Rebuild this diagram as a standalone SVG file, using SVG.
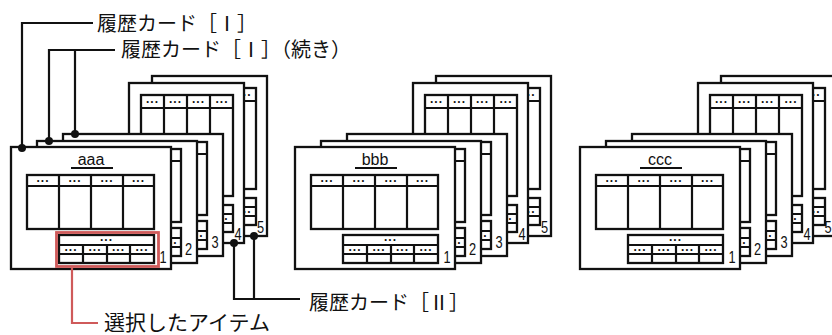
<svg xmlns="http://www.w3.org/2000/svg" xmlns:xlink="http://www.w3.org/1999/xlink" width="832" height="335" viewBox="0 0 832 335">
<style>
.card{fill:#fff;stroke:#111;stroke-width:2.3}
.tb{fill:#fff;stroke:#111;stroke-width:2.3}
.ln{fill:none;stroke:#111;stroke-width:2.2}
.dt{font-family:"Liberation Sans",Arial,sans-serif;font-size:12px;font-weight:bold;fill:#111;text-anchor:middle;letter-spacing:1px}
.num{font-family:"Liberation Sans",Arial,sans-serif;font-size:16px;fill:#111;text-anchor:middle}
.ttl{font-family:"Liberation Sans",Arial,sans-serif;font-size:16px;fill:#111;text-anchor:middle}
.jp{font-family:"Noto Sans CJK JP","Noto Sans",sans-serif;font-size:20px;fill:#111}
.con{fill:none;stroke:#111;stroke-width:2.2}
.jd{fill:#111}
.sel{fill:none;stroke:#cf5a5a;stroke-width:2.8}
.selln{fill:none;stroke:#cf5a5a;stroke-width:2.2}
</style>
<defs>
<g id="tplA">
<rect class="card" x="0" y="0" width="160" height="122"/>
<rect class="tb" x="16" y="28" width="127" height="54"/>
<path class="ln" d="M16 39H143M48 28V82M80 28V82M112 28V82"/>
<text class="dt" x="32" y="34.5">...</text><text class="dt" x="64" y="34.5">...</text><text class="dt" x="96" y="34.5">...</text><text class="dt" x="127.5" y="34.5">...</text>
<rect class="tb" x="48" y="88" width="95" height="28"/>
<path class="ln" d="M48 98H143M48 107H143M72 98V116M96 98V116M119 98V116"/>
<text class="dt" x="95.5" y="94">...</text>
<text class="dt" x="60" y="103.5">...</text><text class="dt" x="84" y="103.5">...</text><text class="dt" x="107.5" y="103.5">...</text><text class="dt" x="131" y="103.5">...</text>
</g>
<g id="tplBack">
<rect class="card" x="0" y="0" width="160" height="122"/>
<rect class="tb" x="16" y="8" width="128" height="73"/>
<path class="ln" d="M16 20H144M48 8V81M80 8V81M112 8V81"/>
<text class="dt" x="32" y="15">...</text><text class="dt" x="64" y="15">...</text><text class="dt" x="96" y="15">...</text><text class="dt" x="128" y="15">...</text>
<rect class="tb" x="48" y="87" width="96" height="28"/>
<path class="ln" d="M48 97H144M48 106H144M72 97V115M96 97V115M120 97V115"/>
<text class="dt" x="96" y="93">...</text>
<text class="dt" x="60" y="102.5">...</text><text class="dt" x="84" y="102.5">...</text><text class="dt" x="108" y="102.5">...</text><text class="dt" x="134" y="102.5">...</text>
</g>
<g id="tplB">
<rect class="card" x="0" y="0" width="115" height="160"/>
<rect class="tb" x="12" y="12" width="92" height="101"/>
<path class="ln" d="M12 25H104M35 12V113M58 12V113M81 12V113"/>
<text class="dt" x="23.5" y="19.5">...</text><text class="dt" x="46.5" y="19.5">...</text><text class="dt" x="69.5" y="19.5">...</text><text class="dt" x="93" y="19.5">...</text>
<rect class="tb" x="12" y="122" width="92" height="27"/>
<path class="ln" d="M12 131H104M12 140H104M35 131V149M58 131V149M81 131V149"/>
<text class="dt" x="58" y="127.5">...</text>
<text class="dt" x="23.5" y="136.5">...</text><text class="dt" x="46.5" y="136.5">...</text><text class="dt" x="69.5" y="136.5">...</text><text class="dt" x="93" y="136.5">...</text>
</g>
</defs>

<!-- stack aaa -->
<g id="aaa-card5"><use xlink:href="#tplB" href="#tplB" x="152" y="76"/><text class="num" transform="translate(260.5 233) scale(0.8 1)">5</text></g>
<g id="aaa-card4"><use xlink:href="#tplB" href="#tplB" x="129" y="83"/><text class="num" transform="translate(238 240) scale(0.8 1)">4</text></g>
<g id="aaa-card3"><use xlink:href="#tplBack" href="#tplBack" x="63" y="134"/><text class="num" transform="translate(215 247.5) scale(0.8 1)">3</text></g>
<g id="aaa-card2"><use xlink:href="#tplBack" href="#tplBack" x="37" y="141"/><text class="num" transform="translate(188.5 255) scale(0.8 1)">2</text></g>
<g id="aaa-card1"><use xlink:href="#tplA" href="#tplA" x="11" y="147"/><text class="ttl" x="91" y="165">aaa</text><path class="ln" d="M71 168H113"/><text class="num" transform="translate(163 263) scale(0.8 1)">1</text></g>

<!-- stack bbb -->
<g id="bbb-card5"><use xlink:href="#tplB" href="#tplB" x="436" y="76"/><text class="num" transform="translate(544.5 233) scale(0.8 1)">5</text></g>
<g id="bbb-card4"><use xlink:href="#tplB" href="#tplB" x="413" y="83"/><text class="num" transform="translate(522 240) scale(0.8 1)">4</text></g>
<g id="bbb-card3"><use xlink:href="#tplBack" href="#tplBack" x="347" y="134"/><text class="num" transform="translate(499 247.5) scale(0.8 1)">3</text></g>
<g id="bbb-card2"><use xlink:href="#tplBack" href="#tplBack" x="321" y="141"/><text class="num" transform="translate(472.5 255) scale(0.8 1)">2</text></g>
<g id="bbb-card1"><use xlink:href="#tplA" href="#tplA" x="295" y="147"/><text class="ttl" x="375" y="165">bbb</text><path class="ln" d="M355 168H397"/><text class="num" transform="translate(447 263) scale(0.8 1)">1</text></g>

<!-- stack ccc -->
<g id="ccc-card5"><use xlink:href="#tplB" href="#tplB" x="721" y="76"/><text class="num" transform="translate(828 233) scale(0.8 1)">5</text></g>
<g id="ccc-card4"><use xlink:href="#tplB" href="#tplB" x="698" y="83"/><text class="num" transform="translate(807 240) scale(0.8 1)">4</text></g>
<g id="ccc-card3"><use xlink:href="#tplBack" href="#tplBack" x="632" y="134"/><text class="num" transform="translate(784 247.5) scale(0.8 1)">3</text></g>
<g id="ccc-card2"><use xlink:href="#tplBack" href="#tplBack" x="606" y="141"/><text class="num" transform="translate(757.5 255) scale(0.8 1)">2</text></g>
<g id="ccc-card1"><use xlink:href="#tplA" href="#tplA" x="580" y="147"/><text class="ttl" x="660" y="165">ccc</text><path class="ln" d="M640 168H682"/><text class="num" transform="translate(732 263) scale(0.8 1)">1</text></g>

<!-- selection highlight -->
<g id="selected-item">
<rect class="sel" x="56.5" y="232.5" width="102" height="34"/>
</g>

<!-- connectors -->
<g id="connectors">
<path class="con" d="M22 148V23H93"/>
<path class="con" d="M49 141V50H115M75 134V50"/>
<path class="con" d="M234 243V299H300M254 236V299"/>
<circle class="jd" cx="22" cy="148" r="4"/>
<circle class="jd" cx="49" cy="141" r="4"/>
<circle class="jd" cx="75" cy="134" r="4"/>
<circle class="jd" cx="234" cy="243" r="4"/>
<circle class="jd" cx="254" cy="236" r="4"/>
<path class="selln" d="M72 268V323H98"/>
</g>

<!-- labels -->
<g id="labels">
<text class="jp" x="97" y="30.5">履歴カード［Ⅰ］</text>
<text class="jp" x="121" y="57">履歴カード［Ⅰ］（続き）</text>
<text class="jp" x="309" y="309.5">履歴カード［Ⅱ］</text>
<text class="jp" x="104" y="330" style="font-size:21px">選択したアイテム</text>
</g>
</svg>
